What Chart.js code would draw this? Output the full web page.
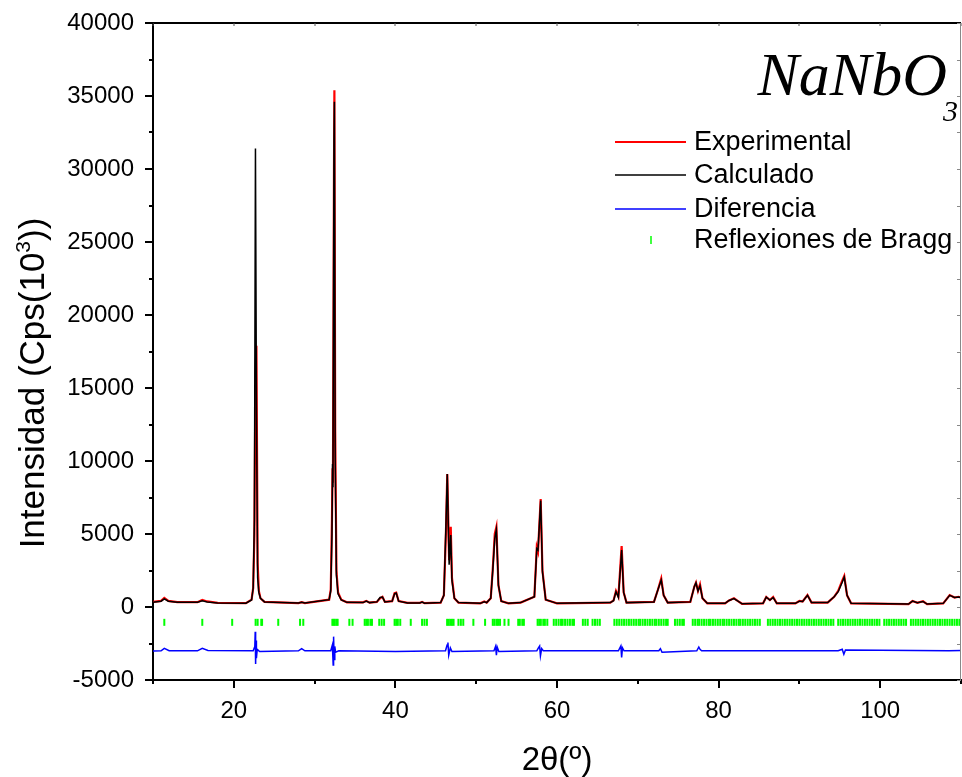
<!DOCTYPE html>
<html>
<head>
<meta charset="utf-8">
<title>NaNbO3 Rietveld</title>
<script src="https://cdn.jsdelivr.net/npm/chart.js@4.4.1/dist/chart.umd.min.js"></script>
<style>
  html, body { margin: 0; padding: 0; background: #fff; }
  canvas { display: block; }
</style>
</head>
<body>
<canvas id="xrdChart" width="962" height="777"></canvas>
<script>
// 2theta grid shared by the observed and calculated profiles
const obsTwoTheta = [
  10.0, 11.0, 11.4, 11.9, 13.0, 15.5, 16.1, 16.7, 18.0, 21.5,
  22.2, 22.4, 22.55, 22.68, 22.8, 22.95, 23.1, 23.3, 23.8, 28.0,
  28.4, 28.8, 31.8, 32.0, 32.15, 32.22, 32.27, 32.4, 32.45, 32.55,
  32.7, 32.9, 33.3, 34.0, 36.0, 36.4, 36.8, 37.7, 38.1, 38.4,
  38.7, 39.6, 39.9, 40.1, 40.4, 41.5, 43.0, 43.3, 43.6, 45.6,
  46.0, 46.25, 46.42, 46.65, 46.85, 47.0, 47.3, 47.8, 50.5, 51.0,
  51.3, 51.8, 52.05, 52.3, 52.5, 52.75, 53.1, 54.0, 55.5, 57.2,
  57.5, 57.65, 57.98, 58.2, 58.6, 60.0, 66.6, 67.0, 67.3, 67.6,
  68.0, 68.25, 68.6, 72.0, 72.5, 72.9, 73.2, 73.7, 76.5, 77.0,
  77.2, 77.45, 77.7, 78.0, 78.6, 80.8, 81.3, 81.9, 82.4, 82.9,
  85.5, 85.9, 86.35, 86.75, 87.2, 89.5, 90.0, 90.4, 91.0, 91.5,
  93.5, 94.3, 94.8, 95.3, 95.55, 95.9, 96.4, 103.5, 104.0, 104.6,
  105.3, 105.8, 107.8, 108.6, 109.2, 109.7, 110.0
];
const obsIntensity = [
  350, 420, 620, 420, 340, 330, 480, 380, 280, 260,
  500, 1300, 5000, 16000, 17900, 3000, 1100, 600, 350, 270,
  330, 270, 500, 1200, 6000, 9500, 8500, 30000, 35400, 12000,
  2500, 1000, 500, 320, 320, 420, 300, 350, 600, 700,
  350, 400, 950, 980, 400, 280, 280, 350, 260, 300,
  800, 5000, 9100, 3200, 5500, 2000, 600, 300, 250, 380,
  300, 600, 2600, 5000, 5480, 1500, 400, 250, 300, 700,
  4100, 3800, 7400, 2500, 500, 250, 300, 450, 1100, 700,
  4175, 1000, 300, 350, 1200, 1960, 800, 300, 350, 1400,
  1670, 1100, 1550, 600, 250, 250, 450, 600, 400, 220,
  250, 690, 480, 690, 250, 250, 410, 380, 820, 300,
  300, 700, 1100, 1800, 2120, 800, 250, 200, 410, 290,
  390, 200, 250, 820, 650, 700, 640
];
const calcIntensity = [
  330, 400, 560, 400, 330, 320, 420, 350, 270, 260,
  480, 1300, 6000, 31400, 14000, 2000, 1000, 600, 350, 270,
  320, 270, 500, 1100, 5000, 9800, 8200, 32000, 34600, 10000,
  2200, 900, 480, 320, 300, 400, 300, 350, 650, 680,
  350, 400, 900, 950, 400, 280, 280, 340, 260, 300,
  800, 5500, 9100, 2900, 4930, 1800, 600, 300, 250, 350,
  300, 600, 2500, 4700, 5300, 1500, 400, 250, 300, 700,
  4000, 3900, 7300, 2400, 500, 250, 300, 430, 1050, 660,
  3900, 1000, 300, 350, 1200, 1850, 800, 300, 350, 1400,
  1650, 1100, 1450, 600, 250, 250, 450, 580, 400, 220,
  250, 680, 480, 640, 250, 250, 400, 380, 800, 300,
  300, 700, 1050, 1700, 2050, 800, 250, 200, 400, 290,
  380, 200, 250, 800, 650, 690, 640
];

// difference curve (plotted with its own offset)
const diffTwoTheta = [
  10.0, 11.0, 11.4, 12.0, 15.5, 16.1, 16.8, 22.4, 22.6, 22.65,
  22.7, 22.75, 22.8, 22.9, 23.2, 28.0, 28.4, 28.8, 32.0, 32.2,
  32.3, 32.35, 32.42, 32.5, 32.6, 33.0, 40.0, 46.2, 46.4, 46.5,
  46.6, 46.8, 47.0, 52.2, 52.4, 52.5, 52.6, 52.8, 57.5, 57.7,
  57.85, 57.95, 58.1, 58.3, 67.6, 67.9, 68.0, 68.1, 68.3, 72.6,
  72.8, 73.0, 77.3, 77.55, 77.7, 77.9, 94.8, 95.3, 95.5, 95.7,
  108.5, 110.0
];
const diffValues = [
  -3010, -3000, -2830, -2990, -3000, -2830, -2980, -3000, -2700, -1700,
  -3900, -2300, -3500, -2900, -3050, -3000, -2850, -3000, -3000, -2600,
  -3970, -2030, -3600, -2700, -3100, -3000, -3050, -3000, -2600, -2440,
  -3300, -2800, -3050, -3000, -2700, -3300, -2750, -3050, -3000, -2800,
  -2670, -3350, -2850, -3000, -3000, -2670, -3460, -2800, -3000, -3000,
  -2850, -3100, -3000, -2740, -2900, -3000, -3000, -2900, -3240, -2950,
  -3000, -2980
];

// Bragg reflection positions and the row they are marked on
const braggLevel = -1050;
const braggPositions = [
  11.4, 16.1, 19.8, 22.7, 22.95, 23.4, 23.5, 25.5, 28.2, 28.6,
  32.2, 32.35, 32.5, 32.7, 32.85, 34.3, 34.7, 36.2, 36.4, 36.6,
  36.9, 37.1, 38.0, 38.3, 38.6, 39.9, 40.1, 40.3, 40.6, 41.9,
  43.3, 43.6, 43.9, 46.4, 46.6, 46.8, 47.0, 47.2, 47.8, 48.1,
  48.4, 49.65, 51.1, 52.05, 52.25, 52.5, 52.7, 52.95, 53.5, 54.0,
  55.2, 55.4, 55.7, 55.9, 57.6, 57.8, 58.0, 58.3, 58.5, 58.8,
  59.6, 59.9, 60.2, 60.5, 60.7, 61.0, 61.3, 61.6, 61.9, 62.1,
  63.2, 63.5, 63.8, 64.4, 64.7, 65.0, 65.3, 67.1, 67.4, 67.7,
  68.0, 68.3, 68.6, 68.9, 69.2, 69.5, 69.8, 70.1, 70.3, 70.6,
  70.9, 71.2, 71.5, 71.8, 72.1, 72.3, 72.6, 72.9, 73.2, 73.5,
  73.7, 74.6, 74.9, 75.2, 75.5, 75.7, 76.8, 77.1, 77.4, 77.6,
  77.9, 78.2, 78.5, 78.8, 79.0, 79.3, 79.6, 79.9, 80.2, 80.5,
  80.7, 81.0, 81.3, 81.6, 81.9, 82.2, 82.5, 82.7, 83.0, 83.3,
  83.6, 83.9, 84.2, 84.5, 84.8, 85.1, 86.1, 86.4, 86.7, 87.0,
  87.3, 87.6, 87.9, 88.2, 88.5, 88.8, 89.1, 89.4, 89.7, 90.0,
  90.3, 90.6, 90.9, 91.2, 91.5, 91.8, 92.1, 92.4, 92.7, 93.0,
  93.3, 93.6, 93.9, 94.2, 94.8, 95.1, 95.4, 95.7, 96.0, 96.3,
  96.6, 96.9, 97.2, 97.5, 97.8, 98.1, 98.4, 98.7, 99.0, 99.3,
  99.6, 99.9, 100.5, 100.8, 101.1, 101.4, 101.7, 102.0, 102.3, 102.6,
  102.9, 103.2, 103.8, 104.1, 104.4, 104.7, 105.0, 105.3, 105.6, 105.9,
  106.2, 106.5, 106.8, 107.1, 107.4, 107.7, 108.0, 108.3, 108.6, 108.9,
  109.2, 109.5, 109.8
];

// axis ranges and tick steps
const xMin = 10, xMax = 110, xLabelStep = 20, xMinorStep = 10;
const yMin = -5000, yMax = 40000, yLabelStep = 5000, yMinorStep = 2500;

const seriesNames = ['Experimental', 'Calculado', 'Diferencia', 'Reflexiones de Bragg'];
const seriesColors = ['#ff0000', '#000000', '#0000ff', '#00ff00'];

const sansFont = "'Liberation Sans', Arial, sans-serif";

function pairs(xs, ys) {
  return xs.map((x, i) => ({ x: x, y: ys[i] }));
}

// ticks, frame, y title, legend and the compound label are drawn on top of the plot
const framePlugin = {
  id: 'framePlugin',
  afterDraw(chart) {
    const ctx = chart.ctx;
    const a = chart.chartArea;
    const xs = chart.scales.x, ys = chart.scales.y;
    const seg = (x1, y1, x2, y2) => { ctx.beginPath(); ctx.moveTo(x1, y1); ctx.lineTo(x2, y2); ctx.stroke(); };
    ctx.save();
    ctx.lineCap = 'butt';

    // top frame, axis ticks
    ctx.strokeStyle = '#000';
    ctx.lineWidth = 2;
    seg(a.left - 8, a.top, a.right, a.top);
    for (let v = xMin; v <= xMax; v += xMinorStep) {
      const px = Math.round(xs.getPixelForValue(v));
      const major = v % xLabelStep === 0;
      seg(px, a.bottom, px, a.bottom + (major ? 8 : 4));
      ctx.lineWidth = 1;
      ctx.strokeStyle = '#555';
      seg(px, a.top, px, a.top + 3);
      ctx.lineWidth = 2;
      ctx.strokeStyle = '#000';
    }
    for (let v = yMin; v <= yMax; v += yMinorStep) {
      const py = Math.round(ys.getPixelForValue(v));
      const major = v % yLabelStep === 0;
      seg(a.left - (major ? 8 : 4), py, a.left, py);
    }
    // right frame (thin grey) with inward ticks
    ctx.strokeStyle = '#888';
    ctx.lineWidth = 1;
    seg(a.right - 0.5, a.top, a.right - 0.5, a.bottom);
    for (let v = yMin; v <= yMax; v += yMinorStep) {
      const py = Math.round(ys.getPixelForValue(v)) + 0.5;
      seg(a.right - 4, py, a.right, py);
    }

    // y axis title with a small raised exponent
    ctx.save();
    ctx.translate(a.left - 109, 383);
    ctx.rotate(-Math.PI / 2);
    ctx.fillStyle = '#000';
    ctx.textBaseline = 'alphabetic';
    ctx.textAlign = 'left';
    const bigFont = '35px ' + sansFont, supFont = '21px ' + sansFont;
    const partA = 'Intensidad (Cps(10', partB = '3', partC = '))';
    ctx.font = bigFont;
    const wA = ctx.measureText(partA).width, wC = ctx.measureText(partC).width;
    ctx.font = supFont;
    const wB = ctx.measureText(partB).width;
    let cx = -(wA + wB + wC) / 2;
    ctx.font = bigFont;
    ctx.fillText(partA, cx, 0);
    cx += wA;
    ctx.font = supFont;
    ctx.fillText(partB, cx, -14);
    cx += wB;
    ctx.font = bigFont;
    ctx.fillText(partC, cx, 0);
    ctx.restore();

    // legend
    const lx = a.left + 462, tx = a.left + 541;
    const rows = [142, 175, 209, 240];
    ctx.font = '27px ' + sansFont;
    ctx.textBaseline = 'middle';
    ctx.textAlign = 'left';
    seriesNames.forEach((name, i) => {
      ctx.strokeStyle = seriesColors[i];
      if (i < 3) {
        ctx.lineWidth = i === 0 ? 2 : 1.5;
        seg(lx, rows[i], lx + 71, rows[i]);
      } else {
        ctx.lineWidth = 1.5;
        seg(lx + 36, rows[i] - 4, lx + 36, rows[i] + 4);
      }
      ctx.fillStyle = '#000';
      ctx.fillText(name, tx, rows[i] + 1);
    });

    // compound label
    ctx.fillStyle = '#000';
    ctx.textBaseline = 'alphabetic';
    ctx.textAlign = 'right';
    ctx.font = "italic 62px 'Liberation Serif', 'DejaVu Serif', serif";
    ctx.fillText('NaNbO', a.right - 14, 95);
    ctx.textAlign = 'left';
    ctx.font = "italic 30px 'Liberation Serif', 'DejaVu Serif', serif";
    ctx.fillText('3', a.right - 18, 121);
    ctx.restore();
  }
};

new Chart(document.getElementById('xrdChart').getContext('2d'), {
  type: 'scatter',
  data: {
    datasets: [
      {
        label: seriesNames[1],
        data: pairs(obsTwoTheta, calcIntensity),
        showLine: true,
        borderColor: seriesColors[1],
        borderWidth: 1.5,
        pointRadius: 0,
        order: 0
      },
      {
        label: seriesNames[0],
        data: pairs(obsTwoTheta, obsIntensity),
        showLine: true,
        borderColor: seriesColors[0],
        borderWidth: 2.2,
        pointRadius: 0,
        order: 1
      },
      {
        label: seriesNames[2],
        data: pairs(diffTwoTheta, diffValues),
        showLine: true,
        borderColor: seriesColors[2],
        borderWidth: 1.5,
        pointRadius: 0,
        order: 2
      },
      {
        label: seriesNames[3],
        data: braggPositions.map(p => ({ x: p, y: braggLevel })),
        showLine: false,
        pointStyle: 'line',
        rotation: 90,
        pointRadius: 3.5,
        borderColor: seriesColors[3],
        borderWidth: 2,
        order: 3
      }
    ]
  },
  options: {
    responsive: false,
    animation: false,
    layout: { autoPadding: false, padding: { left: 0, right: 1, top: 23, bottom: 0 } },
    plugins: {
      legend: { display: false },
      tooltip: { enabled: false }
    },
    scales: {
      x: {
        type: 'linear',
        min: xMin,
        max: xMax,
        grid: { display: false, drawTicks: true, tickLength: 17 },
        border: { display: true, color: '#000', width: 2 },
        ticks: {
          stepSize: xMinorStep,
          autoSkip: false,
          maxRotation: 0,
          padding: 0,
          color: '#000',
          font: { family: sansFont, size: 24 },
          callback: v => (v % xLabelStep === 0 && v !== xMin && v !== xMax) ? String(v) : ''
        },
        title: {
          display: true,
          text: '2θ(º)',
          color: '#000',
          font: { family: sansFont, size: 33, lineHeight: 1 },
          padding: { top: 0, bottom: 0 }
        },
        afterFit: s => { s.height = 97; s.paddingLeft = 0; s.paddingRight = 0; }
      },
      y: {
        min: yMin,
        max: yMax,
        grid: { display: false, drawTicks: true, tickLength: 19 },
        border: { display: true, color: '#000', width: 2 },
        ticks: {
          stepSize: yLabelStep,
          autoSkip: false,
          padding: 0,
          color: '#000',
          font: { family: sansFont, size: 24 },
          callback: v => String(v)
        },
        afterFit: s => { s.width = 153; }
      }
    }
  },
  plugins: [framePlugin]
});
</script>
</body>
</html>
